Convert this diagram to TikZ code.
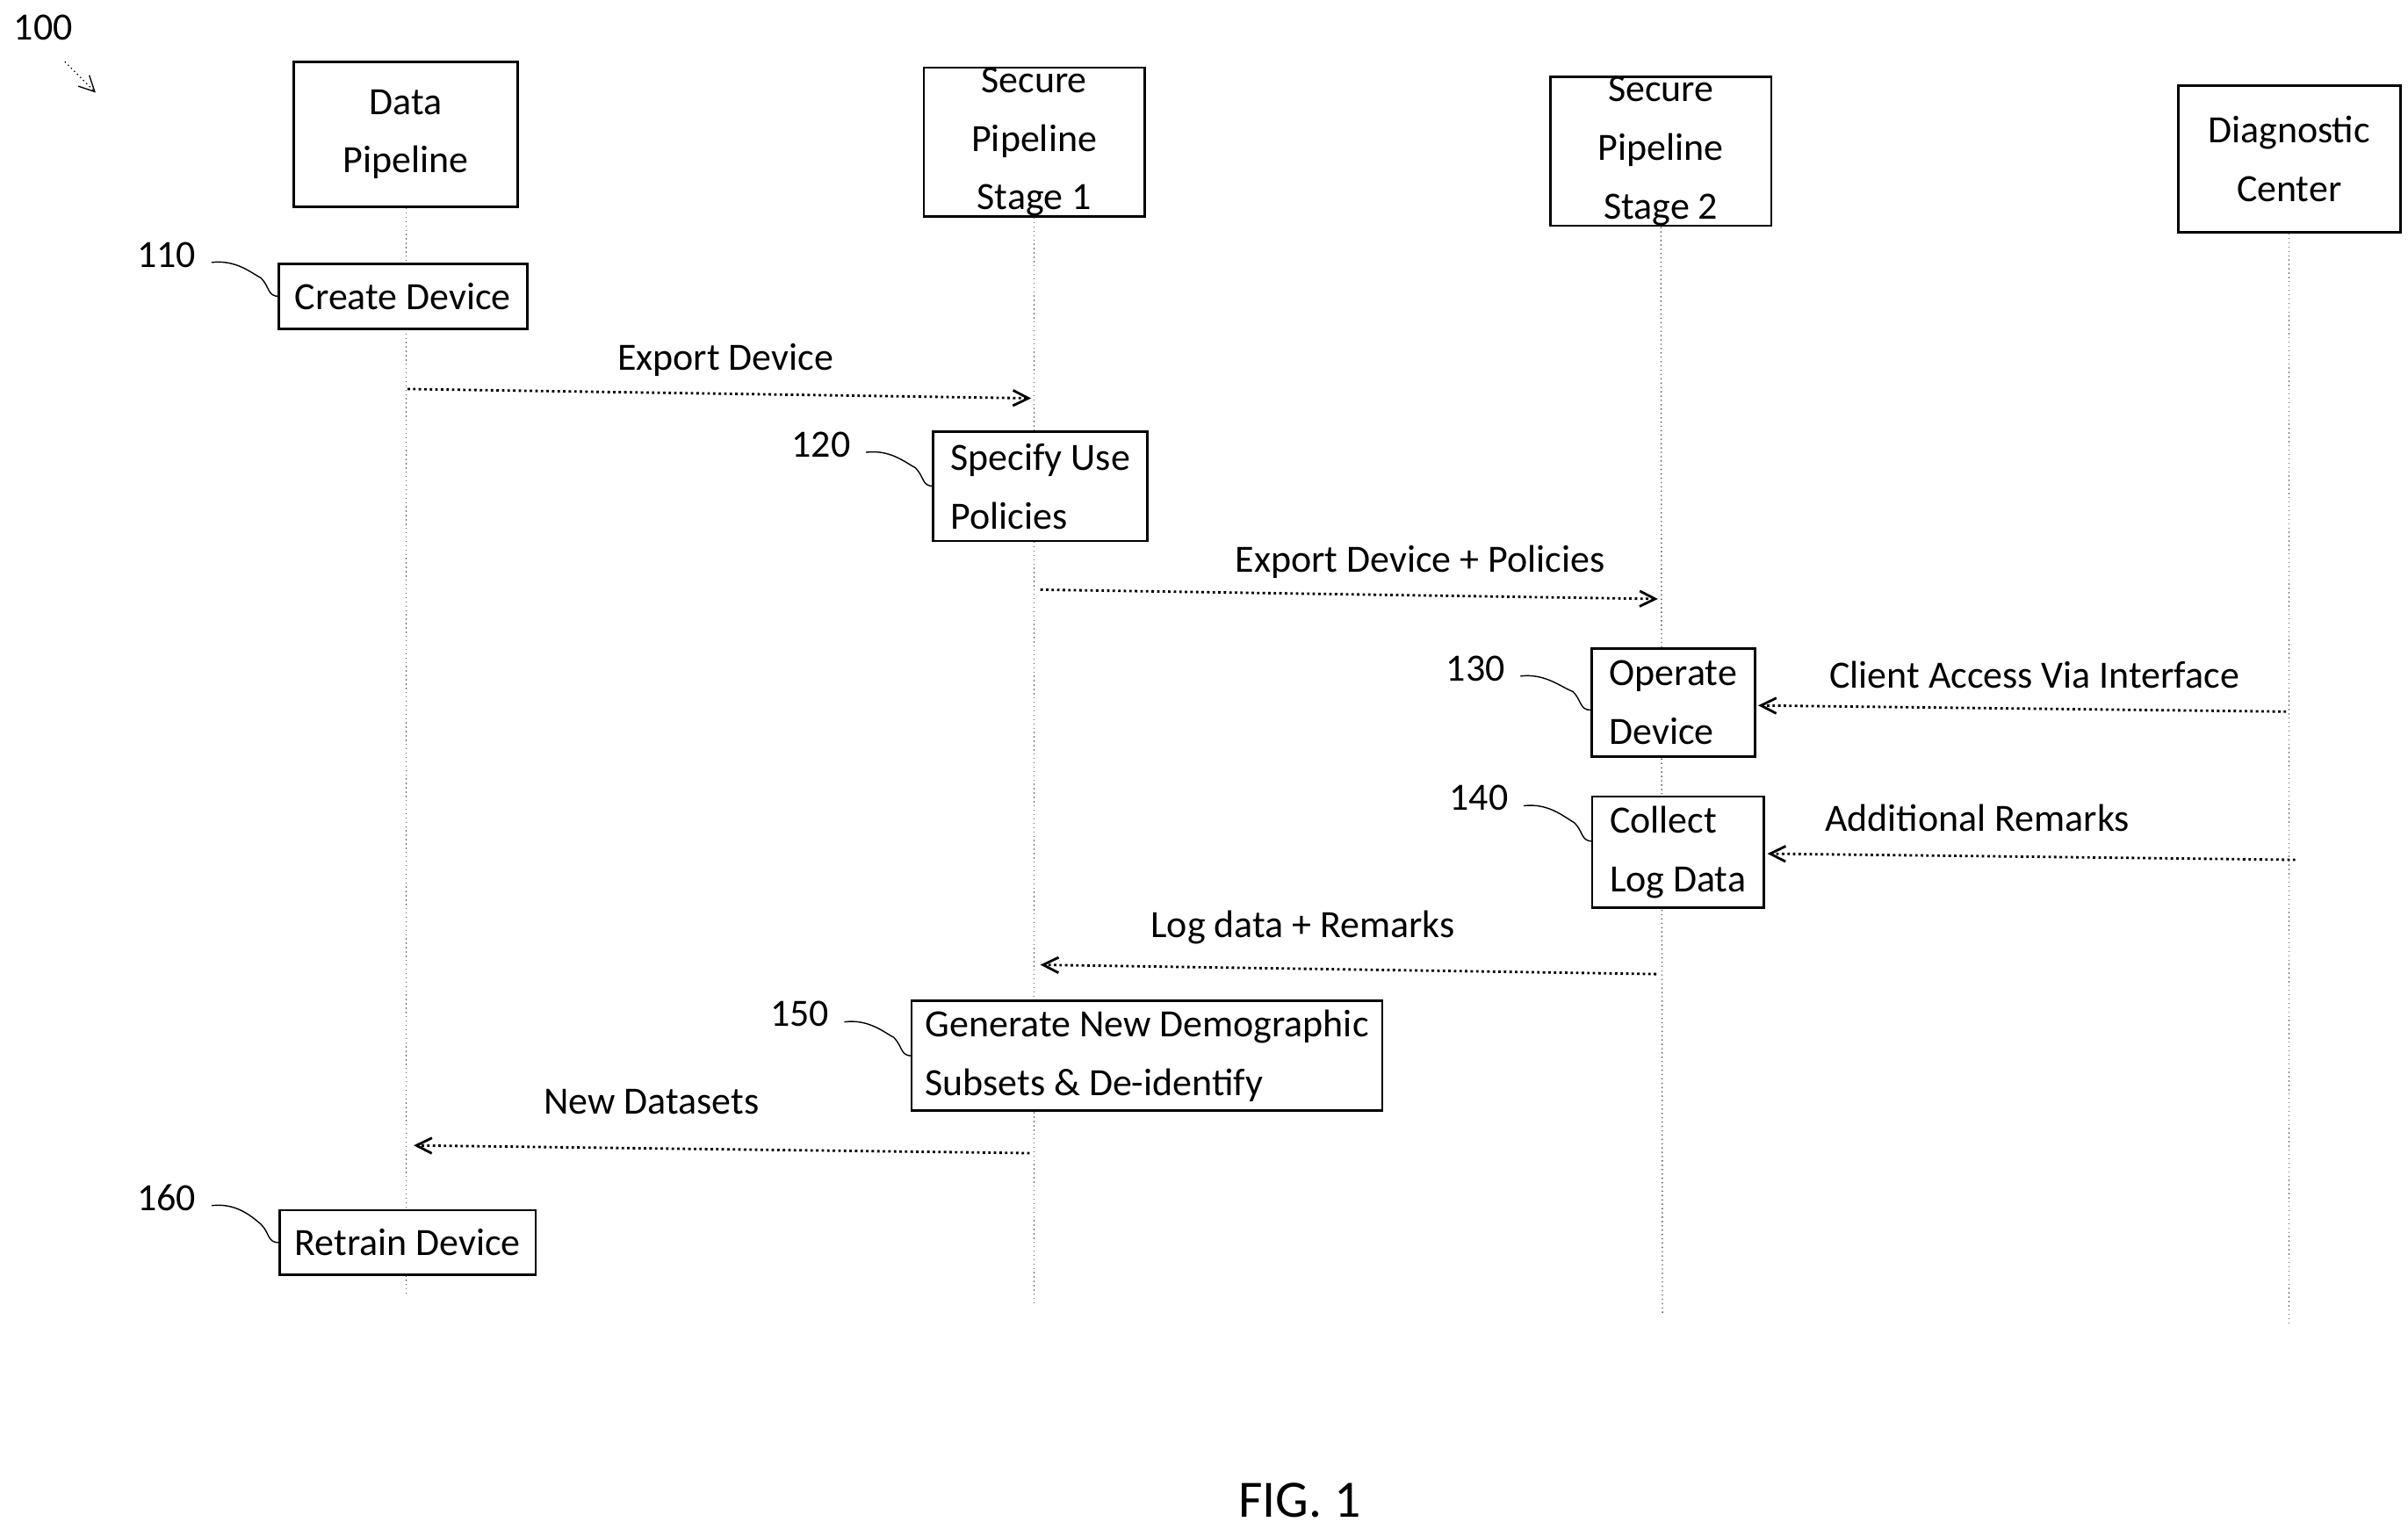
\documentclass[tikz,border=0pt]{standalone}
\usepackage{fontspec}
\setmainfont{Carlito}
\usetikzlibrary{arrows.meta}
\begin{document}
\begin{tikzpicture}[x=0.01758cm,y=-0.01758cm,
  box/.style={draw,thick,align=center,inner sep=0pt,font=\fontsize{12.5}{19}\selectfont},
  life/.style={densely dotted,thin,gray!70!black},
  msg/.style={densely dotted,thick,-{Straight Barb[length=5pt,width=5pt]}},
  lbl/.style={font=\fontsize{12.5}{15}\selectfont},
  sq/.style={thin}]
\useasboundingbox (0,0) rectangle (1560,990);
% actors
\node[box,minimum width=145*0.01758cm,minimum height=94*0.01758cm] (dp) at (263,87) {Data\\Pipeline};
\node[box,minimum width=143*0.01758cm,minimum height=95*0.01758cm] (s1) at (670,92) {Secure\\Pipeline\\Stage 1};
\node[box,minimum width=143*0.01758cm,minimum height=95*0.01758cm] (s2) at (1076,98) {Secure\\Pipeline\\Stage 2};
\node[box,minimum width=144*0.01758cm,minimum height=95*0.01758cm] (dc) at (1483,103) {Diagnostic\\Center};
\coordinate (dpe) at (263,840); \coordinate (s1e) at (670,845);
\coordinate (s2e) at (1077,852); \coordinate (dce) at (1483,858);
\draw[life] (dp.south) -- (dpe); \draw[life] (s1.south) -- (s1e);
\draw[life] (s2.south) -- (s2e); \draw[life] (dc.south) -- (dce);
% steps
\node[box,fill=white,minimum width=161*0.01758cm,minimum height=42*0.01758cm] (cd) at (261,192) {Create Device};
\node[box,fill=white,align=left,minimum width=139*0.01758cm,minimum height=71*0.01758cm] (su) at (674,315) {Specify Use\\Policies};
\node[box,fill=white,align=left,minimum width=106*0.01758cm,minimum height=70*0.01758cm] (od) at (1084,455) {Operate\\Device};
\node[box,fill=white,align=left,minimum width=111*0.01758cm,minimum height=72*0.01758cm] (cl) at (1087,552) {Collect\\Log Data};
\node[box,fill=white,align=left,minimum width=305*0.01758cm,minimum height=71*0.01758cm] (gn) at (743,684) {Generate New Demographic\\Subsets \& De-identify};
\node[box,fill=white,minimum width=166*0.01758cm,minimum height=42*0.01758cm] (rt) at (264,805) {Retrain Device};
% messages
\coordinate (a1) at (264,252); \coordinate (a2) at (668,258);
\coordinate (b1) at (674,382); \coordinate (b2) at (1074,388);
\coordinate (c1) at (1481,461); \coordinate (c2) at (1139,457);
\coordinate (d1) at (1487,557); \coordinate (d2) at (1145,553);
\coordinate (e1) at (1073,631); \coordinate (e2) at (674,625);
\coordinate (f1) at (667,747); \coordinate (f2) at (268,742);
\draw[msg] (a1) -- (a2); \node[lbl] (la) at (470,233) {Export Device};
\draw[msg] (b1) -- (b2); \node[lbl] (lb) at (920,364) {Export Device + Policies};
\draw[msg] (c1) -- (c2); \node[lbl] (lc) at (1318,437) {Client Access Via Interface};
\draw[msg] (d1) -- (d2); \node[lbl] (ld) at (1281,530) {Additional Remarks};
\draw[msg] (e1) -- (e2); \node[lbl] (le) at (844,601) {Log data + Remarks};
\draw[msg] (f1) -- (f2); \node[lbl] (lf) at (422,714) {New Datasets};
% reference numerals
\foreach \n/\x/\y/\tx/\ty in {110/108/165/181/192, 120/532/288/605/315, 130/956/433/1031/460, 140/958/517/1032/545, 150/518/657/591/684, 160/108/776/181/805}{
  \node[lbl] (r\n) at (\x,\y) {\n};
  \draw[sq] (\x+29,\y+5) .. controls (\x+45,\y+3) and (\x+55,\y+12) .. (\tx-12,\ty-12) .. controls (\tx-6,\ty-6) and (\tx-8,\ty) .. (\tx,\ty);
}
\node[lbl] (r100) at (28,18) {100};
\coordinate (p1) at (42,40); \coordinate (p2) at (62,60);
\draw[densely dotted,-{Straight Barb[length=5pt,width=5pt]}] (p1) -- (p2);
\node[font=\fontsize{17}{20}\selectfont] (fig) at (842,972) {FIG. 1};
\end{tikzpicture}
\end{document}
